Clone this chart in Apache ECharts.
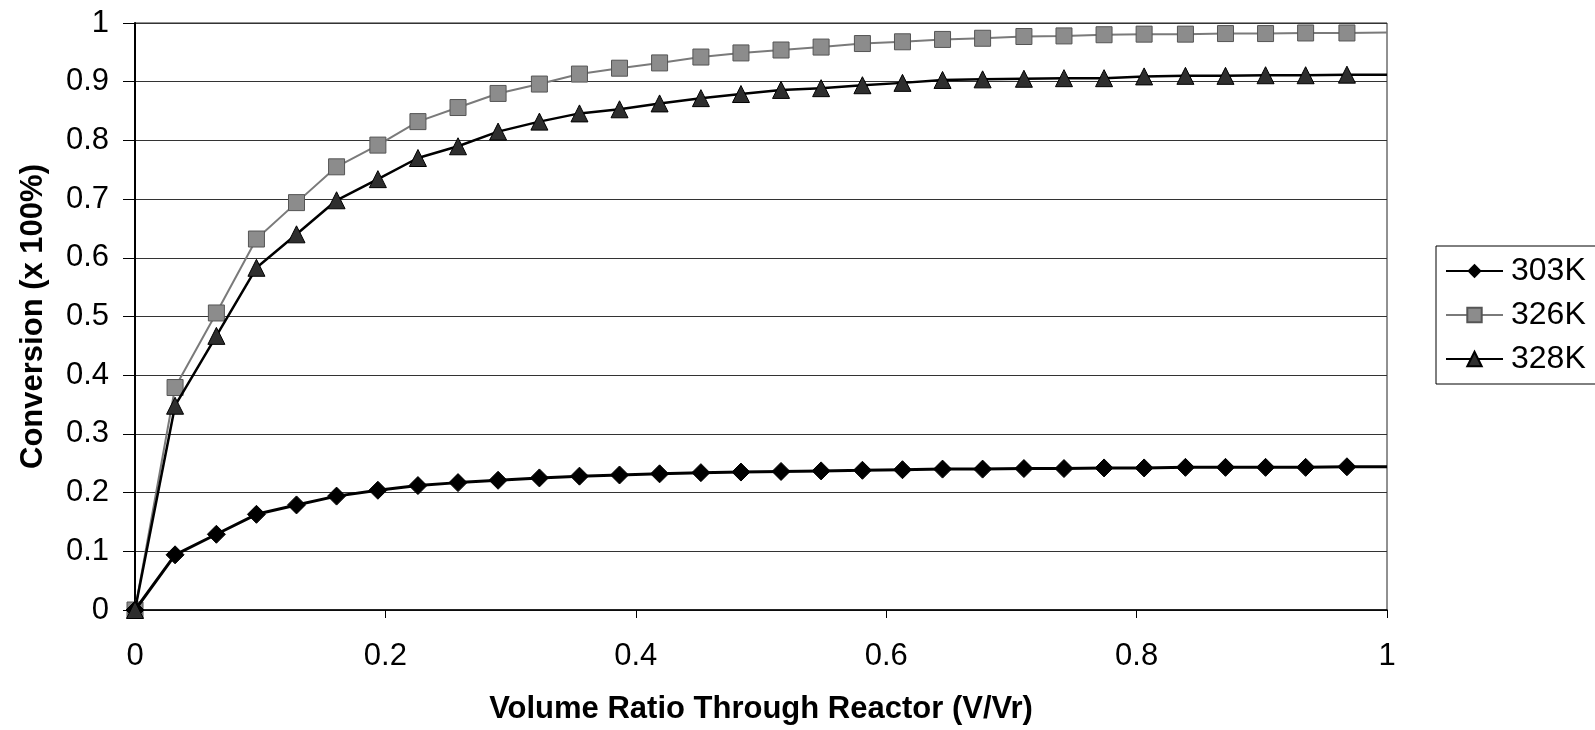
<!DOCTYPE html>
<html>
<head>
<meta charset="utf-8">
<script src="https://cdn.jsdelivr.net/npm/echarts@6/dist/echarts.min.js"></script>
<style>
html,body{margin:0;padding:0;background:#fff;}
#chart{width:1595px;height:730px;}
</style>
</head>
<body>
<div id="chart"></div>
<script>
// Volume ratio through reactor (V/Vr)
const xVals = [0, 0.032, 0.065, 0.097, 0.129, 0.161, 0.194, 0.226, 0.258, 0.290, 0.323, 0.355, 0.387, 0.419, 0.452, 0.484, 0.516, 0.548, 0.581, 0.613, 0.645, 0.677, 0.710, 0.742, 0.774, 0.806, 0.839, 0.871, 0.903, 0.935, 0.968, 1.0];
// Conversion values per temperature
const conv303 = [0, 0.094, 0.129, 0.163, 0.179, 0.194, 0.204, 0.212, 0.217, 0.221, 0.225, 0.228, 0.230, 0.232, 0.234, 0.235, 0.236, 0.237, 0.238, 0.239, 0.240, 0.240, 0.241, 0.241, 0.242, 0.242, 0.243, 0.243, 0.243, 0.243, 0.244, 0.244];
const conv326 = [0, 0.379, 0.506, 0.632, 0.694, 0.755, 0.792, 0.832, 0.856, 0.880, 0.896, 0.913, 0.923, 0.932, 0.942, 0.949, 0.954, 0.959, 0.965, 0.968, 0.972, 0.974, 0.977, 0.978, 0.980, 0.981, 0.981, 0.982, 0.982, 0.983, 0.983, 0.984];
const conv328 = [0, 0.348, 0.467, 0.583, 0.640, 0.698, 0.734, 0.770, 0.790, 0.815, 0.832, 0.846, 0.853, 0.863, 0.872, 0.879, 0.886, 0.889, 0.894, 0.898, 0.903, 0.904, 0.905, 0.906, 0.906, 0.909, 0.910, 0.910, 0.911, 0.911, 0.912, 0.912];
const seriesNames = ['303K', '326K', '328K'];
const xTitle = 'Volume Ratio Through Reactor (V/Vr)';
const yTitle = 'Conversion (x 100%)';

function pairs(ys) {
  return xVals.map((x, i) => {
    const item = { value: [x, ys[i]] };
    if (i === xVals.length - 1) item.symbol = 'none';
    return item;
  });
}

const FONT = '"Liberation Sans", Arial, sans-serif';
const chart = echarts.init(document.getElementById('chart'), null, { renderer: 'canvas' });
chart.setOption({
  backgroundColor: '#fff',
  animation: false,
  textStyle: { fontFamily: FONT, color: '#000' },
  grid: { left: 135, right: 208, top: 23, bottom: 120, show: true, borderColor: '#222', borderWidth: 1, backgroundColor: 'transparent' },
  legend: {
    orient: 'vertical',
    left: 1436, top: 246,
    padding: [9, 11, 9, 9],
    itemGap: 12,
    itemWidth: 57, itemHeight: 18,
    borderColor: '#000', borderWidth: 1,
    textStyle: { fontSize: 32, lineHeight: 32, color: '#000', fontFamily: FONT, padding: [0, 0, 0, 3] },
    data: seriesNames
  },
  xAxis: {
    type: 'value', min: 0, max: 1, interval: 0.2,
    name: xTitle, nameLocation: 'middle', nameGap: 84,
    nameTextStyle: { fontSize: 31, fontWeight: 'bold', color: '#000', fontFamily: FONT },
    axisLine: { lineStyle: { color: '#000', width: 1.5 } },
    axisTick: { show: true, length: 8, lineStyle: { color: '#000' } },
    axisLabel: { fontSize: 31, color: '#000', margin: 31, fontFamily: FONT },
    splitLine: { show: false }
  },
  yAxis: {
    type: 'value', min: 0, max: 1, interval: 0.1,
    name: yTitle, nameLocation: 'middle', nameGap: 86,
    nameTextStyle: { fontSize: 31, fontWeight: 'bold', color: '#000', fontFamily: FONT },
    axisLine: { show: true, lineStyle: { color: '#000', width: 2 } },
    axisTick: { show: true, length: 12, lineStyle: { color: '#000' } },
    axisLabel: { fontSize: 31, color: '#000', margin: 26, fontFamily: FONT },
    splitLine: { show: true, lineStyle: { color: '#333', width: 1 } }
  },
  series: [
    {
      name: seriesNames[0], type: 'line', data: pairs(conv303),
      symbol: 'diamond', symbolSize: 18,
      lineStyle: { color: '#000', width: 3 },
      itemStyle: { color: '#000', borderColor: '#000' },
      z: 4
    },
    {
      name: seriesNames[1], type: 'line', data: pairs(conv326),
      symbol: 'rect', symbolSize: 16,
      lineStyle: { color: '#7a7a7a', width: 2 },
      itemStyle: { color: '#8c8c8c', borderColor: '#555', borderWidth: 1 },
      z: 3
    },
    {
      name: seriesNames[2], type: 'line', data: pairs(conv328),
      symbol: 'triangle', symbolSize: 17,
      lineStyle: { color: '#000', width: 2.5 },
      itemStyle: { color: '#2e2e2e', borderColor: '#000', borderWidth: 1 },
      z: 5
    }
  ]
});
</script>
</body>
</html>
